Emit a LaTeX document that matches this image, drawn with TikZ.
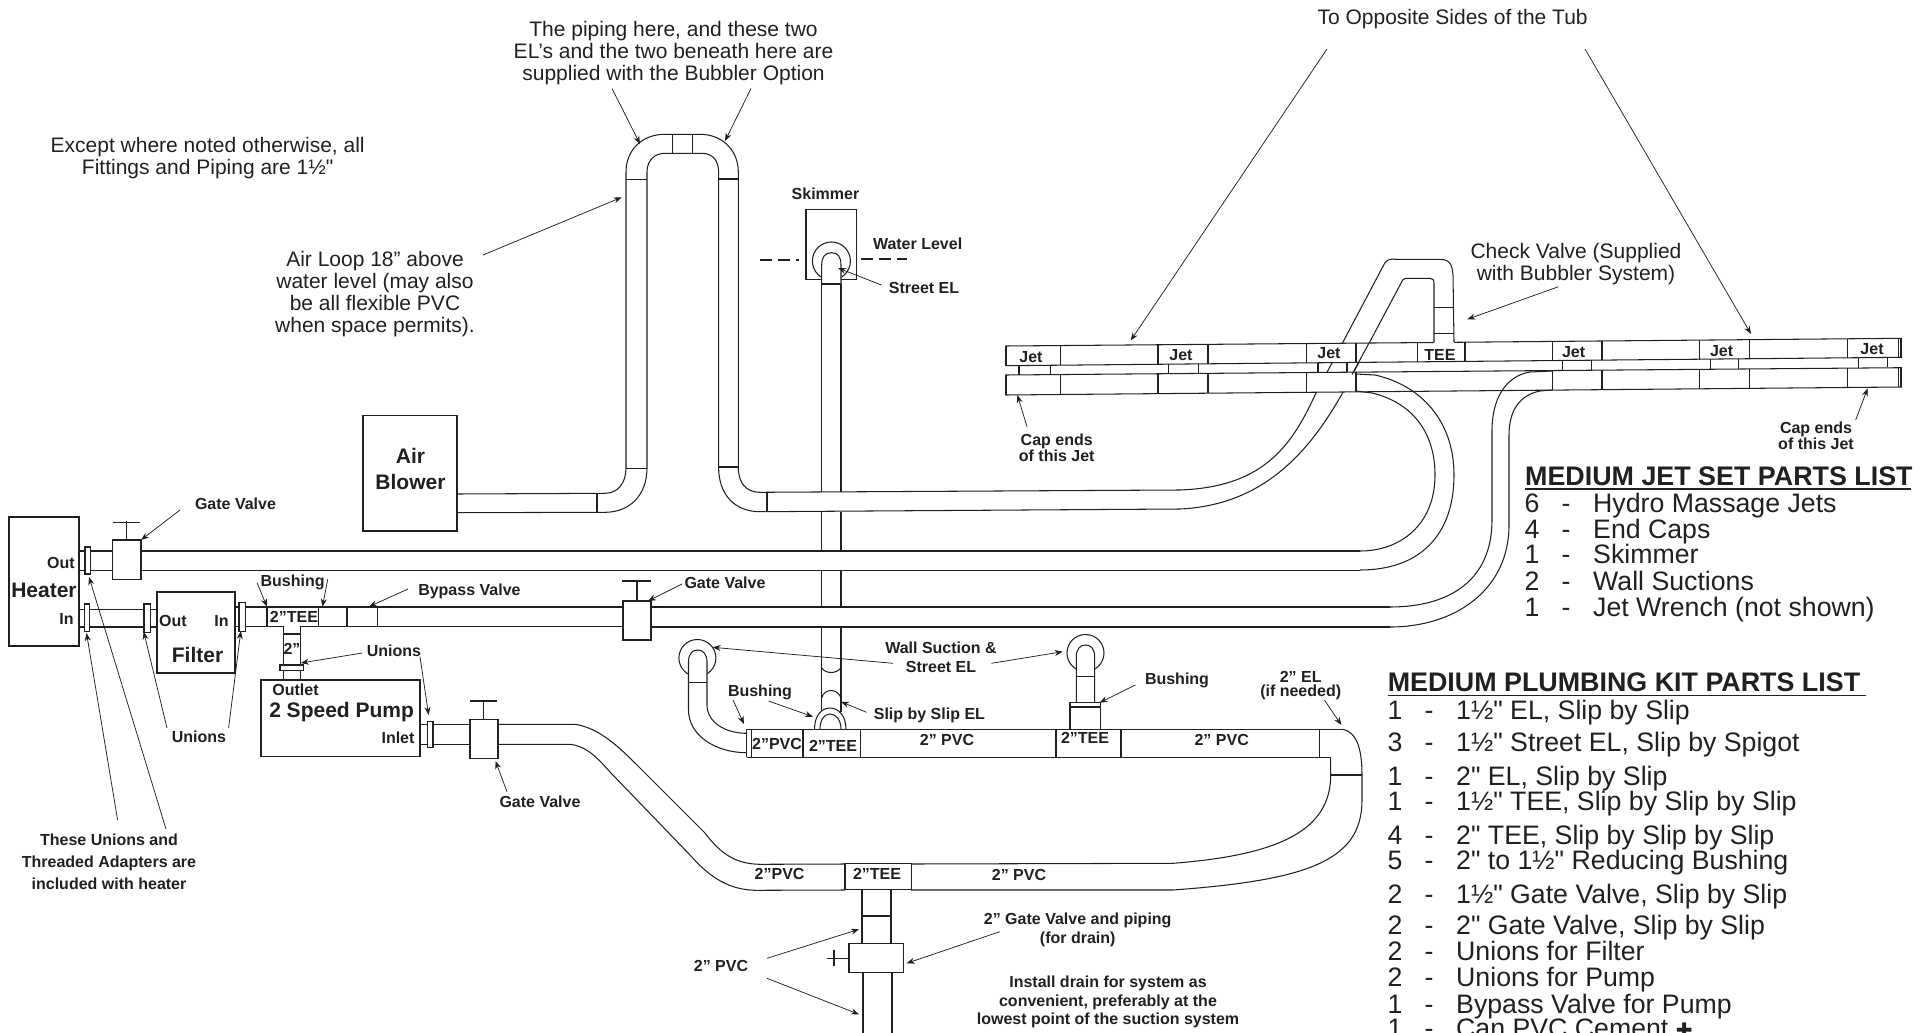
\documentclass[tikz,border=0pt]{standalone}
\usepackage{fontspec}
\setmainfont{Liberation Sans}
\newfontfamily\symfont{DejaVu Sans}
\newfontfamily\rawfont{Liberation Sans}
\newcommand{\inch}{{\rawfont"}}
\usetikzlibrary{arrows.meta}
\definecolor{ink}{RGB}{35,31,32}
\tikzset{
 pipeline/.style={line width=1.05pt,ink},
 boxline/.style={line width=1.6pt,ink,fill=white},
 leader/.style={line width=0.75pt,ink,-{Stealth[length=8pt,width=6pt]}},
 lbl/.style={font=\bfseries\fontsize{16}{17}\selectfont,inner sep=0pt,align=center,text=ink,yshift=-0.8pt},
 tightlbl/.style={font=\bfseries\fontsize{16}{14}\selectfont,inner sep=0pt,align=center,text=ink},
 biglbl/.style={font=\bfseries\fontsize{21}{21}\selectfont,inner sep=0pt,align=center,text=ink},
 note/.style={font=\fontsize{21}{22}\selectfont,inner sep=0pt,align=center,text=ink},
 listtitle/.style={font=\bfseries\fontsize{26.85}{28}\selectfont,inner sep=0pt,anchor=base west,text=ink},
 listtxt/.style={font=\fontsize{26.7}{28}\selectfont,inner sep=0pt,text=ink,anchor=base},
}
\newcommand{\listrow}[5]{%
 \node[listtxt] (#1n) at (#2,{#3+9.5}) {#4};
 \node[listtxt] (#1d) at ({#2+34},{#3+9.5}) {-};
 \node[listtxt,anchor=base west] (#1t) at ({#2+61},{#3+9.5}) {#5};}
\newcommand{\hp}[4]{% x1 x2 y1 y2
 \fill[white] (#1,#3) rectangle (#2,#4);
 \draw[pipeline] (#1,#3) -- (#2,#3) (#1,#4) -- (#2,#4);}
\begin{document}
\begin{tikzpicture}[x=1pt,y=-1pt]
\useasboundingbox (0,0) rectangle (1927,1033);
% --- air loop and blower pipe
\draw[pipeline] (457,494) -- (605.5,493.3) .. controls (618,493) and (626,483) .. (626,468) -- (626,172)
  .. controls (626,150) and (642,134.3) .. (665,134.3) -- (700,134.3) .. controls (722,134.3) and (738.3,150) .. (738.3,172)
  -- (738.3,467) .. controls (738.3,483) and (746,492.3) .. (760,492.3);
\draw[pipeline] (457,512.7) -- (605.5,512.3) .. controls (630,512) and (647,495) .. (647,468) -- (647,172)
  .. controls (647,160) and (655,153.3) .. (665,153.3) -- (702,153.3) .. controls (712,153.3) and (718.6,160) .. (718.6,172)
  -- (718.6,467) .. controls (718.6,495) and (735,511.7) .. (760,511.7);
\draw[pipeline] (672.8,134.3) -- (672.8,153.3) (692.8,134.3) -- (692.8,153.3)
  (626,179.3) -- (647,179.3) (718.6,179) -- (738.3,179) (626,468.3) -- (647,468.3) (718.6,467) -- (738.3,467)
  (597,494) -- (597,512.5) (767,492.3) -- (767,511.7);
% --- air pipe to the jets
\draw[pipeline] (760,492.3) -- (1180,490) .. controls (1260,487) and (1290,450) .. (1315,395) -- (1384.6,263.3)
  .. controls (1388,258) and (1392,259.3) .. (1397,259.3) -- (1439,259.3) .. controls (1450,259.3) and (1452,264) .. (1453,275) -- (1454,343);
\draw[pipeline] (760,511.7) -- (1180,509) .. controls (1265,505) and (1310,450) .. (1342,394) -- (1402.7,280)
  .. controls (1404,278) and (1406,278.3) .. (1409,278.3) -- (1430,278.3) .. controls (1433,278.3) and (1434,280) .. (1434,284) -- (1434,343);
\draw[pipeline] (1434,307.7) -- (1453,307.7) (1434,333.7) -- (1454,333.7);
% --- jet manifolds
\fill[white] (1005.4,346) -- (1902,338.3) -- (1902,357.3) -- (1005.4,365.7) -- cycle;
\fill[white] (1005.4,375) -- (1902,367.7) -- (1902,387) -- (1005.4,395) -- cycle;
\draw[pipeline] (1005.4,346) -- (1434,342.5) (1454,342.3) -- (1902,338.3) (1005.4,365.7) -- (1902,357.3)
  (1005.4,375) -- (1902,367.7) (1005.4,395) -- (1902,387);
\draw[line width=2.2pt,ink] (1006,346) -- (1006,365.7) (1006,375) -- (1006,395) (1901,338.3) -- (1901,357.3) (1901,367.7) -- (1901,387);
\foreach \a/\b/\c/\d in {1060.3/1158/1208/1019,1356/1306.7/1306.7/1318,1602/1552.5/1552.5/1562.7,1749.3/1699.8/1699.8/1710.7,1898/1847.8/1847.8/1858.6}{
 \foreach \xx in {\a,\b,\c}{
  \draw[pipeline] (\xx,{346-0.0086*(\xx-1005)}) -- (\xx,{365.5-0.0086*(\xx-1005)});
  \draw[pipeline] (\xx,{375-0.0086*(\xx-1005)}) -- (\xx,{395-0.0086*(\xx-1005)});
 }
}
\foreach \xx in {1417.8,1465}{\draw[pipeline] (\xx,{346-0.0086*(\xx-1005)}) -- (\xx,{365.5-0.0086*(\xx-1005)});}
\foreach \xx in {1019,1050.6,1168.4,1198.6,1318,1347,1562.7,1591.7,1710.7,1738.5,1858.6,1887.6}{
 \draw[pipeline] (\xx,{365.5-0.0086*(\xx-1005)}) -- (\xx,{375-0.0086*(\xx-1005)});
}
\draw[pipeline] (1369,343) -- (1352,374.5);
% --- hoses to heater and bypass
\draw[pipeline] (1356,374) -- (1375,375) .. controls (1420,385) and (1454,420) .. (1454,475) .. controls (1454,535) and (1420,570) .. (1360,570);
\draw[pipeline] (1356,391) -- (1372,393) .. controls (1410,402) and (1435,430) .. (1435,475) .. controls (1435,525) and (1400,551) .. (1360,551);
\draw[pipeline] (1552,371) -- (1530,372) .. controls (1505,376) and (1492,400) .. (1492,430) -- (1492,520) .. controls (1492,580) and (1450,607) .. (1390,607);
\draw[pipeline] (1552,390) -- (1540,391) .. controls (1520,395) and (1509,410) .. (1509,435) -- (1509,525) .. controls (1509,590) and (1455,627) .. (1390,627);
% --- skimmer
\draw[pipeline] (806,209.3) rectangle (856.6,279.3);
\draw[pipeline,fill=white] (831.4,261) circle (19);
\fill[white] (821.7,284) -- (821.7,265) .. controls (821.7,257) and (825,252.7) .. (831.4,252.7) .. controls (838,252.7) and (841,257) .. (841,265) -- (841,284) -- cycle;
\draw[pipeline] (821.7,284) -- (821.7,265) .. controls (821.7,257) and (825,252.7) .. (831.4,252.7) .. controls (838,252.7) and (841,257) .. (841,265) -- (841,284);
\draw[pipeline] (821.7,284) -- (841,284);
\draw[pipeline,dash pattern=on 12pt off 6pt] (760,260) -- (798.6,260) (861,259) -- (907,259);
% --- vertical suction pipe, in pieces
\draw[pipeline] (821.7,284) -- (821.7,492) (841,284) -- (841,492)
  (821.7,512) -- (821.7,551) (841,512) -- (841,551)
  (821.7,570) -- (821.7,607) (841,570) -- (841,607)
  (821.7,627) -- (821.7,712) (841,627) -- (841,712);
\draw[pipeline] (821.7,668) .. controls (826,674) and (836,674) .. (841,668);
\draw[pipeline] (821.7,698) .. controls (824,688) and (838,688) .. (841,698);
\fill[white] (814.5,729.3) .. controls (814.5,715) and (822,708) .. (830,708) .. controls (838,708) and (846,715) .. (846,729.3) -- cycle;
\draw[pipeline] (814.5,729.3) .. controls (814.5,715) and (822,708) .. (830,708) .. controls (838,708) and (846,715) .. (846,729.3);
\draw[pipeline] (820,729.3) .. controls (820,720) and (824,714) .. (830,714) .. controls (836,714) and (841,720) .. (841,729.3);
% --- horizontal pipes
\hp{79}{113}{551}{570.3}
\hp{141}{1360}{551}{570.3}
\hp{79}{157}{609.3}{627}
\hp{234}{623}{607}{626.7}
\hp{651}{1390}{607}{627}
\draw[pipeline] (267,607) -- (267,626.7) (318.4,607) -- (318.4,626.7) (347,607) -- (347,626.7) (377.6,607) -- (377.6,626.7);
% --- T branch to pump
\fill[white] (283.8,626.7) rectangle (300,680);
\draw[pipeline] (283.3,626.7) -- (283.3,680) (300.4,626.7) -- (300.4,680) (283.3,634) -- (300.4,634);
\fill[white] (284,625) rectangle (300,628);
% --- boxes
\draw[boxline] (9,516.7) rectangle (79,646);
\draw[boxline] (157,591.7) rectangle (234.7,672.7);
\draw[boxline] (261,680) rectangle (420,756.3);
\draw[boxline] (363,415.6) rectangle (457,531);
\draw[pipeline,fill=white] (85,547) rectangle (90.6,574);
\draw[pipeline,fill=white] (84.5,604) rectangle (89.8,631.7);
\draw[pipeline,fill=white] (144,604) rectangle (150.6,632.3);
\draw[pipeline,fill=white,line width=1.5pt] (238.8,602.3) rectangle (245.7,631.7);
\draw[pipeline,fill=white] (280,665) rectangle (303.3,670.7);
% gate valves
\draw[boxline,line width=1.3pt] (112.6,540) rectangle (141,579.3);
\draw[pipeline] (126.5,520.7) -- (126.5,540) (112.6,522.7) -- (140,522.7);
\draw[boxline,line width=1.3pt] (623,601) rectangle (651,640);
\draw[pipeline] (637,580) -- (637,601) (622,581) -- (651,581);
% --- pump suction line
\draw[pipeline] (420,724.3) -- (470,724.3) (420,744.3) -- (470,744.3);
\draw[pipeline,fill=white] (427.8,721.3) rectangle (433,747.3);
\draw[boxline,line width=1.3pt] (470,719.3) rectangle (498,758.3);
\draw[pipeline] (483.5,700) -- (483.5,719.3) (470,701) -- (497,701);
\draw[pipeline] (498,724.3) -- (575,724.3) .. controls (600,728) and (620,748) .. (640,768) -- (705,833) .. controls (720,853) and (735,864) .. (760,864.3) -- (845,864);
\draw[pipeline] (498,744.3) -- (570,744.3) .. controls (585,746) and (595,755) .. (610,772) -- (690,855) .. controls (710,878) and (730,890) .. (756,890.3) -- (845,890);
\draw[pipeline] (911,864) -- (1173,863.3) .. controls (1280,855) and (1330.7,830) .. (1330.7,775) -- (1330.7,757.3);
\draw[pipeline] (911,890) -- (1173,890) .. controls (1310,880) and (1362,860) .. (1362,800) -- (1362,775) .. controls (1362,745) and (1355,732) .. (1343,729.3);
\draw[pipeline] (1330.7,775) -- (1362,775);
\draw[boxline,line width=1.3pt] (845,863.7) rectangle (911.5,889.3);
% --- main 2 inch pipe
\draw[pipeline,line width=1.4pt] (746.6,729.3) -- (1343,729.3) (746.6,757.3) -- (1330.7,757.3);
\draw[pipeline] (751.5,729.3) -- (751.5,757.3) (803,729.3) -- (803,757.3) (860.5,729.3) -- (860.5,757.3) (1056,729.3) -- (1056,757.3) (1319.6,729.3) -- (1319.6,757.3);
\draw[pipeline,line width=1.6pt] (746.6,729.3) -- (746.6,757.3) (1121,729.3) -- (1121,757.3);
% left wall suction
\draw[pipeline,fill=white] (697.4,658) circle (18.5);
\fill[white] (688.5,682.3) -- (688.5,662) .. controls (688.5,654) and (692,650) .. (697.7,650) .. controls (703,650) and (707,654) .. (707,662) -- (707,682.3) -- cycle;
\draw[pipeline] (688.5,682.3) -- (688.5,662) .. controls (688.5,654) and (692,650) .. (697.7,650) .. controls (703,650) and (707,654) .. (707,662) -- (707,682.3);
\draw[pipeline] (688.5,682.3) -- (707,682.3);
\draw[pipeline] (688.5,682.3) -- (688.5,710) .. controls (688.5,735) and (715,752.7) .. (746.6,752.7);
\draw[pipeline] (707,682.3) -- (707,705) .. controls (707,722) and (725,733.3) .. (746.6,733.3);
% right wall suction
\draw[pipeline,fill=white] (1085.5,653) circle (18.5);
\fill[white] (1076.3,676.7) -- (1076.3,657) .. controls (1076.3,649) and (1080,645) .. (1085.5,645) .. controls (1091,645) and (1094.7,649) .. (1094.7,657) -- (1094.7,676.7) -- cycle;
\draw[pipeline] (1076.3,702.7) -- (1076.3,657) .. controls (1076.3,649) and (1080,645) .. (1085.5,645) .. controls (1091,645) and (1094.7,649) .. (1094.7,657) -- (1094.7,702.7);
\draw[pipeline] (1076.3,676.7) -- (1094.7,676.7);
\draw[pipeline] (1070,729.3) -- (1070,702.7) -- (1100.5,702.7) -- (1100.5,729.3) (1070,707) -- (1100.5,707);
% --- drain
\draw[pipeline] (862,889.3) -- (862,943) (891,889.3) -- (891,943) (862,916) -- (891,916);
\draw[boxline,line width=1.3pt] (849,943.3) rectangle (903.2,972.3);
\draw[pipeline] (826.6,958.3) -- (849,958.3) (834,950) -- (834,965.7);
\draw[pipeline] (863,972.3) -- (863,1034) (892,972.3) -- (892,1034);
% ===== labels =====
\node[note] (toptxt) at (673.5,53) {The piping here, and these two\\EL’s and the two beneath here are\\supplied with the Bubbler Option};
\node[note] (except) at (207.7,158.5) {Except where noted otherwise, all\\Fittings and Piping are 1½\inch};
\node[note] (airloop) at (375,294) {Air Loop 18” above\\water level (may also\\be all flexible PVC\\when space permits).};
\node[note] (opp) at (1452.6,19) {To Opposite Sides of the Tub};
\node[note] (check) at (1576,264) {Check Valve (Supplied\\with Bubbler System)};
\node[biglbl] (heater) at (44,590) {Heater};
\node[biglbl] (filter) at (197.5,654.7) {Filter};
\node[biglbl] (pump) at (341.6,712) {2 Speed Pump};
\node[biglbl,font=\bfseries\fontsize{21}{26}\selectfont] (blower) at (410.5,469) {Air\\Blower};
\node[lbl] (hout) at (61,561.7) {Out};
\node[lbl] (hin) at (66.5,618) {In};
\node[lbl] (fout) at (173,619.7) {Out};
\node[lbl] (fin) at (221.6,619.7) {In};
\node[lbl] (outlet) at (295.5,689) {Outlet};
\node[lbl] (inlet) at (398,736.7) {Inlet};
\node[lbl] (gv1) at (235.5,503) {Gate Valve};
\node[lbl] (gv2) at (725,581.5) {Gate Valve};
\node[lbl] (gv3) at (540,800.7) {Gate Valve};
\node[lbl] (bush1) at (292.6,581.7) {Bushing};
\node[lbl] (byp) at (469.4,590.7) {Bypass Valve};
\node[lbl] (un1) at (394,650) {Unions};
\node[lbl] (un2) at (199,735.7) {Unions};
\node[lbl,font=\bfseries\fontsize{16}{22}\selectfont] (these) at (109,860.5) {These Unions and\\Threaded Adapters are\\included with heater};
\node[lbl] (tee1) at (294,615.7) {2”TEE};
\node[lbl] (two) at (292,648) {2”};
\node[lbl] (skim) at (825.5,193.3) {Skimmer};
\node[lbl] (wl) at (917.6,242.7) {Water Level};
\node[lbl] (sel) at (924,286.7) {Street EL};
\node[lbl,font=\bfseries\fontsize{16}{19}\selectfont] (ws) at (941,656) {Wall Suction \&\\Street EL};
\node[lbl] (bush2) at (760,691.7) {Bushing};
\node[lbl] (bush3) at (1177,680) {Bushing};
\node[lbl] (slip) at (929.4,715) {Slip by Slip EL};
\node[tightlbl] (el2) at (1300.7,685.7) {2” EL\\(if needed)};
\node[lbl] (p1) at (777,743.3) {2”PVC};
\node[lbl] (t2) at (833,745) {2”TEE};
\node[lbl] (p2) at (947,739) {2” PVC};
\node[lbl] (t3) at (1085,736.7) {2”TEE};
\node[lbl] (p3) at (1221.7,739) {2” PVC};
\node[lbl] (p4) at (779.6,873.3) {2”PVC};
\node[lbl] (t4) at (877,873.3) {2”TEE};
\node[lbl] (p5) at (1019,874.3) {2” PVC};
\node[lbl] (p6) at (721,965) {2” PVC};
\node[lbl,font=\bfseries\fontsize{16}{19}\selectfont] (dv) at (1077.7,929.5) {2” Gate Valve and piping\\(for drain)};
\node[lbl,font=\bfseries\fontsize{16}{18.5}\selectfont] (inst) at (1108,1001.5) {Install drain for system as\\convenient, preferably at the\\lowest point of the suction system};
\node[tightlbl] (cap1) at (1056.7,448) {Cap ends\\of this Jet};
\node[tightlbl] (cap2) at (1816,435.7) {Cap ends\\of this Jet};
\node[lbl] (j1) at (1031,356.7) {Jet};
\node[lbl] (j2) at (1181,354) {Jet};
\node[lbl] (j3) at (1329,352) {Jet};
\node[lbl] (tj) at (1440,353.7) {TEE};
\node[lbl] (j4) at (1573.6,351.7) {Jet};
\node[lbl] (j5) at (1721.6,350) {Jet};
\node[lbl] (j6) at (1872,348.3) {Jet};
% ===== leaders =====
\draw[leader] (180,510) -- (141,540);
\draw[leader] (682,584) -- (648,601);
\draw[leader] (507,791.7) -- (495.5,761);
\draw[leader] (167,728) -- (143.7,631.7);
\draw[leader] (228.6,728) -- (240.8,631);
\draw[leader] (117.6,820) -- (86.5,633);
\draw[leader] (166,829) -- (89,577);
\draw[leader] (257,582.7) -- (267,606.7);
\draw[leader] (327.8,579) -- (322.4,606.7);
\draw[leader] (408,589) -- (369,606.7);
\draw[leader] (362.4,653) -- (300.8,663);
\draw[leader] (420,656.7) -- (428.6,715);
\draw[leader] (483,255) -- (621.7,197.3);
\draw[leader] (612,88.5) -- (640,144);
\draw[leader] (751,88.5) -- (725,141);
\draw[leader] (881.4,285) -- (838,268);
\draw[leader] (893,663.3) -- (712.7,647.3);
\draw[leader] (991.4,663.3) -- (1062.7,651.7);
\draw[leader] (733,700) -- (744,724);
\draw[leader] (768.5,701) -- (813,716.7);
\draw[leader] (866.4,712.3) -- (841,701.7);
\draw[leader] (1135.4,685) -- (1099.5,702.7);
\draw[leader] (1324.4,700) -- (1341.4,725);
\draw[leader] (767,958.3) -- (859,929.3);
\draw[leader] (767,978.3) -- (859,1014.3);
\draw[leader] (999.7,931.7) -- (906.6,963.3);
\draw[leader] (1027,426.7) -- (1017.4,395);
\draw[leader] (1855.6,420) -- (1867.7,388.3);
\draw[leader] (1558.5,286.7) -- (1467.3,319.3);
\draw[leader] (1327,49) -- (1130.7,340.5);
\draw[leader] (1585,49) -- (1751,334);
% ===== parts lists =====
\node[listtitle] (jettitle) at (1525,485) {MEDIUM JET SET PARTS LIST};
\draw[line width=1.5pt,ink] (1525,489) -- (1911,489);
\listrow{ja}{1532}{502.7}{6}{Hydro Massage Jets}
\listrow{jb}{1532}{528.5}{4}{End Caps}
\listrow{jc}{1532}{554}{1}{Skimmer}
\listrow{jd}{1532}{581}{2}{Wall Suctions}
\listrow{je}{1532}{607}{1}{Jet Wrench (not shown)}
\node[listtitle] (kittitle) at (1387.6,691.5) {MEDIUM PLUMBING KIT PARTS LIST};
\draw[line width=1.5pt,ink] (1387.6,695.6) -- (1866,695.6);
\listrow{ka}{1395}{710.4}{1}{1½\inch{} EL, Slip by Slip}
\listrow{kb}{1395}{742.3}{3}{1½\inch{} Street EL, Slip by Spigot}
\listrow{kc}{1395}{775.5}{1}{2\inch{} EL, Slip by Slip}
\listrow{kd}{1395}{801.3}{1}{1½\inch{} TEE, Slip by Slip by Slip}
\listrow{ke}{1395}{834.5}{4}{2\inch{} TEE, Slip by Slip by Slip}
\listrow{kf}{1395}{860.3}{5}{2\inch{} to 1½\inch{} Reducing Bushing}
\listrow{kg}{1395}{893.5}{2}{1½\inch{} Gate Valve, Slip by Slip}
\listrow{kh}{1395}{925.4}{2}{2\inch{} Gate Valve, Slip by Slip}
\listrow{ki}{1395}{951.2}{2}{Unions for Filter}
\listrow{kj}{1395}{977}{2}{Unions for Pump}
\listrow{kk}{1395}{1004}{1}{Bypass Valve for Pump}
\listrow{kl}{1395}{1027.6}{1}{Can PVC Cement {\symfont\fontsize{20}{20}\selectfont ✚}}
\end{tikzpicture}
\end{document}
